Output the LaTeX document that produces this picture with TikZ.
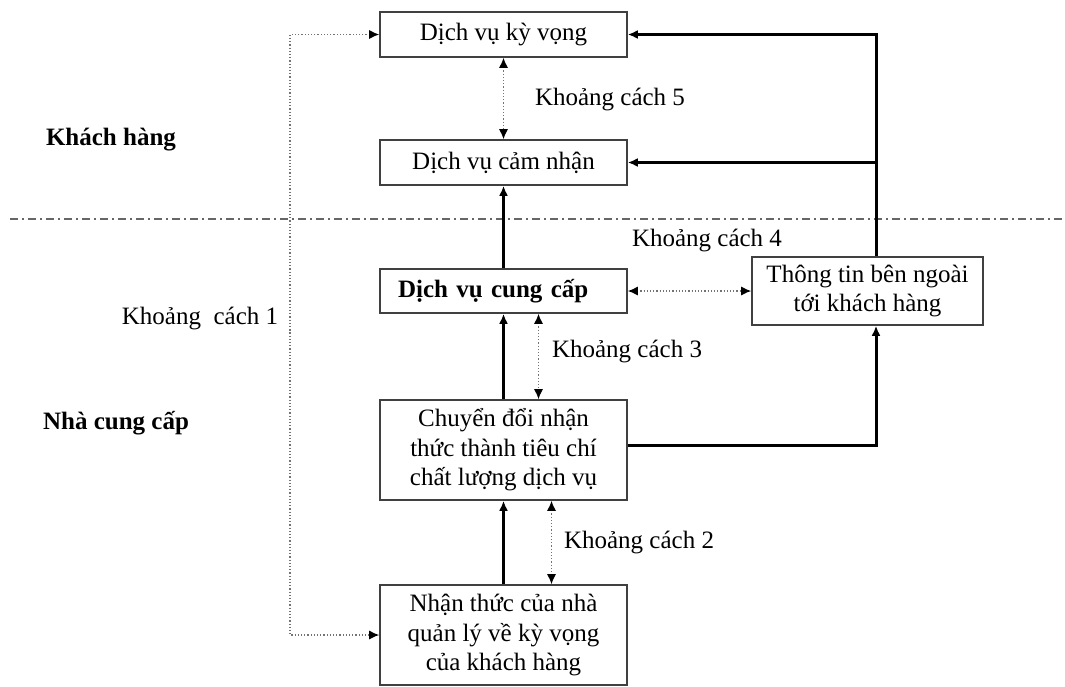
\documentclass[tikz,border=0pt]{standalone}
\usepackage{fontspec}
\setmainfont{Liberation Serif}
\usetikzlibrary{arrows.meta}

\begin{document}
\begin{tikzpicture}[x=0.5pt, y=-0.5pt,
    font=\fontsize{12.5}{14.7}\selectfont,
    box/.style={draw=black!75, line width=0.8pt, minimum width=123.5pt, align=center, inner sep=0pt},
    flow/.style={-{Latex[length=5pt,width=4.5pt]}, line width=1.5pt},
    gap/.style={{Latex[length=5pt,width=4.5pt,color=black]}-{Latex[length=5pt,width=4.5pt,color=black]}, densely dotted, draw=black!55, line width=0.6pt},
    side/.style={font=\fontsize{12.5}{14.7}\selectfont\bfseries}]
    \useasboundingbox (0,0) rectangle (1065,686);

    % Boxes
    \node[box, minimum height=22.5pt] (expect) at (503.5,34.5) {Dịch vụ kỳ vọng};
    \node[box, minimum height=22.5pt] (perc) at (503.5,162.5) {Dịch vụ cảm nhận};
    \node[box, minimum height=22pt, text width=105.5pt, align=left, font=\fontsize{12.5}{14.7}\selectfont\bfseries] (deliv) at (503.5,291) {Dịch vụ cung cấp};
    \node[box, minimum height=50pt] (conv) at (503.5,450) {Chuyển đổi nhận\\thức thành tiêu chí\\chất lượng dịch vụ};
    \node[box, minimum height=50pt] (mgr) at (503.5,635) {Nhận thức của nhà\\quản lý về kỳ vọng\\của khách hàng};
    \node[box, minimum width=115.5pt, minimum height=34pt] (info) at (867.5,291) {Thông tin bên ngoài\\tới khách hàng};

    % Sides
    \draw[black!60, line width=0.6pt, dash pattern=on 4pt off 2pt on 1pt off 2pt] (10,219) -- (1065,219);
    \node[side] (cust) at (111,140) {Khách hàng};
    \node[side] (prov) at (116,423) {Nhà cung cấp};

    % Solid flows
    \draw[flow] (deliv) -- (perc);
    \draw[flow] (conv) -- (deliv);
    \draw[flow] (mgr) -- (conv);
    \draw[flow] ([xshift=4.25pt]info.north) |- (expect.east);
    \draw[flow] ([xshift=4.25pt]info.north) |- (perc.east);
    \draw[flow] ([yshift=2.5pt]conv.east) -| ([xshift=4.25pt]info.south);

    % Gaps
    \coordinate (k1) at (290,330);
    \draw[gap] (expect.west) -| (k1) |- (mgr.west);
    \draw[gap] (expect) -- (perc);
    \draw[gap] ([xshift=17.5pt]deliv.south) -- ([xshift=17.5pt]conv.north);
    \draw[gap] ([xshift=24pt]conv.south) -- ([xshift=24pt]mgr.north);
    \draw[gap] (deliv.east) -- (info.west);

    % Gap labels
    \node (g1) at (200,318) {Khoảng~~cách 1};
    \node[anchor=west] (g2) at (557,542) {Khoảng cách 2};
    \node[anchor=west] (g3) at (545,352) {Khoảng cách 3};
    \node (g4) at (707,241) {Khoảng cách 4};
    \node (g5) at (610,100) {Khoảng cách 5};
\end{tikzpicture}
\end{document}
